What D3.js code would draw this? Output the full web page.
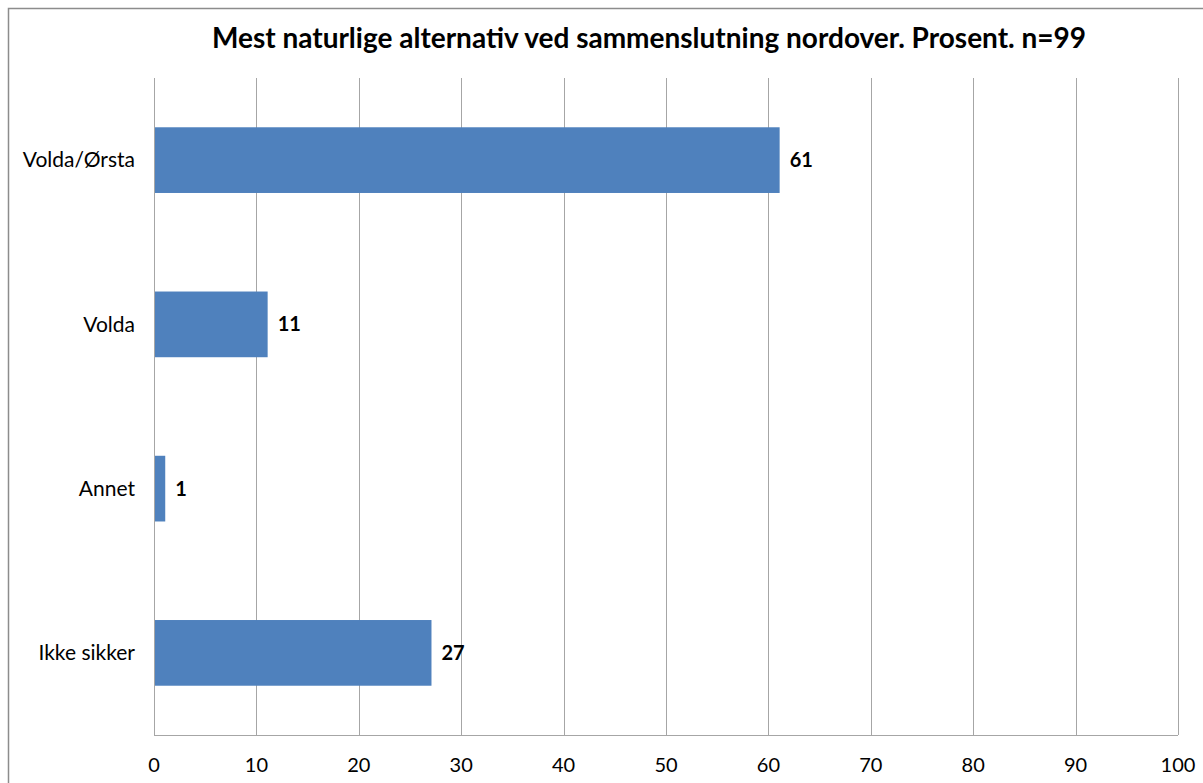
<!DOCTYPE html>
<html>
<head>
<meta charset="utf-8">
<script src="https://cdn.jsdelivr.net/npm/d3@7"></script>
<style>
  body { margin: 0; background: #fff; }
  svg { display: block; font-family: Lato, "Open Sans", sans-serif; }
</style>
</head>
<body>
<div id="container"></div>
<script>
const categories = ['Volda/Ørsta', 'Volda', 'Annet', 'Ikke sikker'];
const values = [61, 11, 1, 27];
const ticks = [0, 10, 20, 30, 40, 50, 60, 70, 80, 90, 100];
const title = 'Mest naturlige alternativ ved sammenslutning nordover. Prosent. n=99';

const width = 1203, height = 783;
const margin = { top: 78, right: 25, bottom: 48, left: 154 };
const innerW = width - margin.left - margin.right;
const innerH = height - margin.top - margin.bottom;

const svg = d3.select('#container').append('svg')
  .attr('width', width)
  .attr('height', height);

// outer chart frame
svg.append('rect')
  .attr('x', 8.5).attr('y', 8.5)
  .attr('width', 1220).attr('height', 800)
  .attr('fill', '#fff')
  .attr('stroke', '#8c8c8c')
  .attr('stroke-width', 1.5);

svg.append('text')
  .attr('x', 649)
  .attr('y', 48)
  .attr('text-anchor', 'middle')
  .style('font-size', '28px')
  .style('font-weight', 'bold')
  .text(title);

const x = d3.scaleLinear().domain([0, 100]).range([0, innerW]);
const y = d3.scaleBand().domain(categories).range([0, innerH]).paddingInner(0.6).paddingOuter(0.3);

const g = svg.append('g').attr('transform', `translate(${margin.left}, ${margin.top})`);

// vertical gridlines
g.append('g')
  .selectAll('line')
  .data(ticks)
  .enter()
  .append('line')
  .attr('x1', (d) => Math.round(x(d)) + 0.5)
  .attr('x2', (d) => Math.round(x(d)) + 0.5)
  .attr('y1', 0)
  .attr('y2', innerH)
  .attr('stroke', '#a6a6a6')
  .attr('stroke-width', 1);

// bottom axis line
g.append('line')
  .attr('x1', 0).attr('x2', innerW)
  .attr('y1', innerH + 0.5).attr('y2', innerH + 0.5)
  .attr('stroke', '#a6a6a6');

// tick labels
g.append('g')
  .selectAll('text')
  .data(ticks)
  .enter()
  .append('text')
  .attr('x', (d) => x(d))
  .attr('y', innerH + 37)
  .attr('text-anchor', 'middle')
  .style('font-size', '20px')
  .text((d) => d);

// category labels
g.append('g')
  .selectAll('text')
  .data(categories)
  .enter()
  .append('text')
  .attr('x', -19)
  .attr('y', (d) => y(d) + y.bandwidth() / 2)
  .attr('dy', '0.35em')
  .attr('text-anchor', 'end')
  .style('font-size', '21px')
  .text((d) => d);

// bars
g.append('g')
  .selectAll('rect')
  .data(values)
  .enter()
  .append('rect')
  .attr('x', x(0) + 1)
  .attr('y', (d, i) => y(categories[i]))
  .attr('width', (d) => x(d) - x(0))
  .attr('height', y.bandwidth())
  .attr('fill', '#4f81bd');

// value labels
g.append('g')
  .selectAll('text')
  .data(values)
  .enter()
  .append('text')
  .attr('x', (d) => x(d) + 11)
  .attr('y', (d, i) => y(categories[i]) + y.bandwidth() / 2)
  .attr('dy', '0.35em')
  .style('font-size', '20px')
  .style('font-weight', 'bold')
  .text((d) => d);
</script>
</body>
</html>
